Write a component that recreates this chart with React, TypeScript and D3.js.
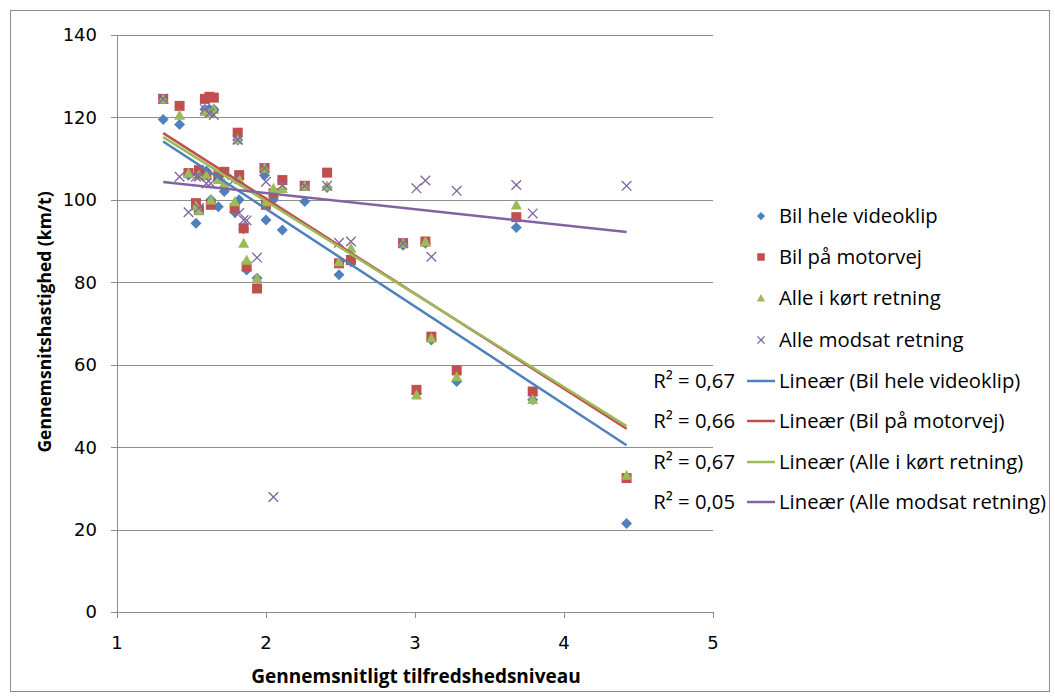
import React from "react";
import * as d3 from "d3";

// Satisfaction level per participant (x) and average speed per measurement (y)
const satisfaction = [
  1.31, 1.42, 1.48, 1.53, 1.55, 1.55, 1.59, 1.62, 1.65, 1.6, 1.63, 1.68, 1.72, 1.79, 1.81, 1.82, 1.85, 1.87,
  1.94, 1.99, 2.0, 2.05, 2.11, 2.26, 2.41, 2.49, 2.57, 2.92, 3.01, 3.07, 3.11, 3.28, 3.68, 3.79, 4.42,
];
const bilHeleVideoklip = [
  119.5, 118.3, 106, 94.3, 98, 107, 122, 122, 122, 107, 100, 98.3, 102, 97, 114.5, 100, 93, 83,
  81, 106, 95.1, 100, 92.7, 99.6, 103, 81.8, 85, 89, 53, 89.5, 66, 55.9, 93.3, 51.5, 21.5,
];
const bilPaaMotorvej = [
  124.5, 122.8, 106.5, 99.2, 97.5, 107.2, 124.5, 125, 124.8, 106, 98.8, 105.6, 106.8, 98, 116.3, 106, 93.1, 83.8,
  78.5, 107.7, 98.8, 101.6, 104.8, 103.4, 106.6, 84.6, 85.4, 89.5, 53.9, 89.9, 66.8, 58.6, 95.8, 53.5, 32.5,
];
const alleIKoertRetning = [
  124.5, 120.6, 106.5, 98.5, 97.5, 106, 121.5, 121, 122, 106, 100, 105, 104, 99.6, 114.6, 105, 89.5, 85.4,
  81, 107.7, 99.6, 102.8, 102.8, 103.4, 103.4, 85, 88.3, 89.5, 52.7, 89.9, 66.5, 57.1, 98.8, 51.6, 33.2,
];
const alleModsatRetning = [
  124.5, 105.6, 97, 105.6, 98, 105.6, 122, 121, 120.6, 104, 104, 106, 106, 105, 114.6, 96.8, 95.1, 95,
  86, 107.7, 104.4, 27.9, 103.6, 103.4, 103.4, 89.6, 89.9, 89.5, 102.8, 104.7, 86.2, 102.2, 103.6, 96.7, 103.4,
];

const seriesNames = ["Bil hele videoklip", "Bil på motorvej", "Alle i kørt retning", "Alle modsat retning"];
const rSquaredLabels = ["R² = 0,67", "R² = 0,66", "R² = 0,67", "R² = 0,05"];
const yTicks = [0, 20, 40, 60, 80, 100, 120, 140];
const xTicks = [1, 2, 3, 4, 5];

const colors = ["#4F81BD", "#C0504D", "#9BBB59", "#8064A2"];
const FONT = "'Open Sans', sans-serif";
const TICK_FONT = "'DejaVu Sans', sans-serif";

type Shape = "diamond" | "square" | "triangle" | "cross";
const shapes: Shape[] = ["diamond", "square", "triangle", "cross"];

function Marker({ shape, x, y, color, s = 1 }: { shape: Shape; x: number; y: number; color: string; s?: number }) {
  if (shape === "diamond") {
    const r = 5.5 * s;
    return <path d={`M${x},${y - r}L${x + r},${y}L${x},${y + r}L${x - r},${y}Z`} fill={color} />;
  }
  if (shape === "square") {
    const h = 5 * s;
    return <rect x={x - h} y={y - h} width={2 * h} height={2 * h} fill={color} />;
  }
  if (shape === "triangle") {
    const w = 5.5 * s;
    return <path d={`M${x},${y - w}L${x + w},${y + w * 0.85}L${x - w},${y + w * 0.85}Z`} fill={color} />;
  }
  const c = 4.8 * s;
  return (
    <path
      d={`M${x - c},${y - c}L${x + c},${y + c}M${x - c},${y + c}L${x + c},${y - c}`}
      stroke={color}
      strokeWidth={1.3}
      fill="none"
    />
  );
}

function linearFit(xs: number[], ys: number[]) {
  const mx = d3.mean(xs) as number;
  const my = d3.mean(ys) as number;
  let sxy = 0;
  let sxx = 0;
  xs.forEach((x, i) => {
    sxy += (x - mx) * (ys[i] - my);
    sxx += (x - mx) * (x - mx);
  });
  const slope = sxy / sxx;
  return { slope, intercept: my - slope * mx };
}

export default function App() {
  const width = 1055;
  const height = 698;
  const x = d3.scaleLinear().domain([1, 5]).range([117, 713]);
  const y = d3.scaleLinear().domain([0, 140]).range([612, 35]);

  const series = [bilHeleVideoklip, bilPaaMotorvej, alleIKoertRetning, alleModsatRetning];
  const [xMin, xMax] = d3.extent(satisfaction) as [number, number];
  const line = d3
    .line<[number, number]>()
    .x((d) => x(d[0]))
    .y((d) => y(d[1]));

  const legendX = 761;
  const legendRows = [216, 257, 298, 340, 381, 421, 462, 502];
  const legendSize = 20.3;

  return (
    <svg width={width} height={height} style={{ position: "absolute", left: 0, top: 0, background: "#fff" }}>
      <rect x={10.5} y={10.5} width={1039} height={681} fill="#fff" stroke="#8C8C8C" strokeWidth={1} />

      {/* horizontal gridlines */}
      {yTicks.map((t) => (
        <line key={t} x1={117} x2={713} y1={Math.round(y(t)) + 0.5} y2={Math.round(y(t)) + 0.5} stroke="#8C8C8C" strokeWidth={1} />
      ))}

      {/* axes */}
      <line x1={117.5} x2={117.5} y1={y(140)} y2={y(0)} stroke="#8C8C8C" />
      {yTicks.map((t) => (
        <line key={"yt" + t} x1={111} x2={117} y1={Math.round(y(t)) + 0.5} y2={Math.round(y(t)) + 0.5} stroke="#8C8C8C" />
      ))}
      {xTicks.map((t) => (
        <line key={"xt" + t} x1={Math.round(x(t)) + 0.5} x2={Math.round(x(t)) + 0.5} y1={612} y2={618} stroke="#8C8C8C" />
      ))}

      {yTicks.map((t) => (
        <text key={"yl" + t} x={97} y={y(t)} dy="0.36em" textAnchor="end" fontFamily={TICK_FONT} fontSize={18} fill="#000">
          {t}
        </text>
      ))}
      {xTicks.map((t) => (
        <text key={"xl" + t} x={x(t)} y={643} dy="0.36em" textAnchor="middle" fontFamily={TICK_FONT} fontSize={18} fill="#000">
          {t}
        </text>
      ))}

      <text
        transform={`translate(45,322) rotate(-90)`}
        textAnchor="middle"
        dy="0.36em"
        fontFamily={FONT}
        fontWeight="bold"
        fontSize={17.5}
      >
        Gennemsnitshastighed (km/t)
      </text>
      <text x={416} y={676} dy="0.36em" textAnchor="middle" fontFamily={FONT} fontWeight="bold" fontSize={19}>
        Gennemsnitligt tilfredshedsniveau
      </text>

      {/* data markers */}
      {series.map((vals, si) => (
        <g key={"s" + si}>
          {vals.map((v, i) => (
            <Marker key={i} shape={shapes[si]} x={x(satisfaction[i])} y={y(v)} color={colors[si]} />
          ))}
        </g>
      ))}

      {/* linear trendlines */}
      {series.map((vals, si) => {
        const { slope, intercept } = linearFit(satisfaction, vals);
        const pts: [number, number][] = [
          [xMin, intercept + slope * xMin],
          [xMax, intercept + slope * xMax],
        ];
        return <path key={"t" + si} d={line(pts) || ""} stroke={colors[si]} strokeWidth={2.5} fill="none" />;
      })}

      {/* legend */}
      {seriesNames.map((name, i) => (
        <g key={"lg" + i}>
          <Marker shape={shapes[i]} x={legendX} y={legendRows[i]} color={colors[i]} s={0.75} />
          <text x={779} y={legendRows[i]} dy="0.36em" fontFamily={FONT} fontSize={legendSize}>
            {name}
          </text>
        </g>
      ))}
      {seriesNames.map((name, i) => (
        <g key={"lt" + i}>
          <line x1={747} x2={775} y1={legendRows[4 + i]} y2={legendRows[4 + i]} stroke={colors[i]} strokeWidth={2.5} />
          <text x={779} y={legendRows[4 + i]} dy="0.36em" fontFamily={FONT} fontSize={legendSize}>
            {`Lineær (${name})`}
          </text>
          <text x={735} y={legendRows[4 + i]} dy="0.36em" textAnchor="end" fontFamily={FONT} fontSize={legendSize}>
            {rSquaredLabels[i]}
          </text>
        </g>
      ))}
    </svg>
  );
}
